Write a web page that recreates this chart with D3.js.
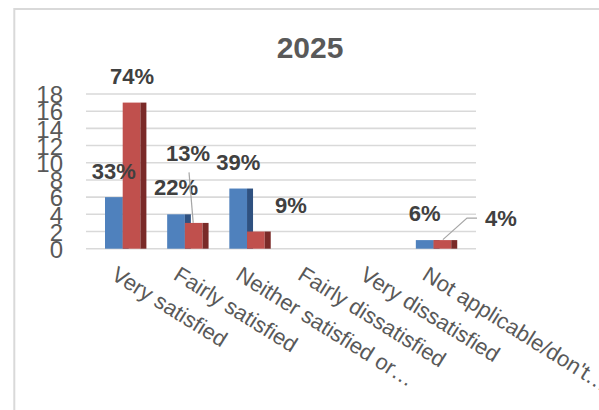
<!DOCTYPE html>
<html>
<head>
<meta charset="utf-8">
<script src="https://cdn.jsdelivr.net/npm/d3@7/dist/d3.min.js"></script>
<style>
  body { margin: 0; background: #fff; }
  svg { display: block; font-family: "Liberation Sans", Arial, sans-serif; }
</style>
</head>
<body>
<svg id="chart" width="599" height="410"></svg>
<script>
// ---- data ----
const chartTitle = "2025";
const categories = [
  "Very satisfied",
  "Fairly satisfied",
  "Neither satisfied or…",
  "Fairly dissatisfied",
  "Very dissatisfied",
  "Not applicable/don't…"
];
const seriesBlue = [6, 4, 7, 0, 0, 1];
const seriesRed  = [17, 3, 2, 0, 0, 1];
const yTicks = [0, 2, 4, 6, 8, 10, 12, 14, 16, 18];

// ---- layout ----
const W = 599, H = 410;
const plot = { left: 87, right: 460, top: 94, bottom: 248.7, gridLeft: 86, gridRight: 476 };
const faceW = 17.7, sideW = 6, groupOffset = 18;
const colors = {
  blue: "#4f81bd", blueSide: "#2f5180",
  red: "#c0504d", redSide: "#7a2a28",
  grid: "#d9d9d9", text: "#595959", label: "#404040", leader: "#a6a6a6"
};
// manual nudges of data labels (dx, dy from the default spot above the bar)
const nudgeBlue = [[0, 0], [0, -0.5], [0, 0], [0, 0], [0, 0], [0, -0.5]];
const nudgeRed  = [[0.5, 0], [-5.7, -43], [35, 0], [0, 0], [0, 0], [58.5, 4.5]];
const leaderRed = [null, "straight", null, null, null, "elbow"];

const svg = d3.select("#chart");

// chart frame
svg.append("rect")
  .attr("x", 14.3).attr("y", 9)
  .attr("width", W + 20).attr("height", H + 20)
  .attr("fill", "none").attr("stroke", colors.grid).attr("stroke-width", 2);

const x = d3.scaleBand().domain(d3.range(categories.length)).range([plot.left, plot.right]).padding(0);
const y = d3.scaleLinear().domain([0, 18]).range([plot.bottom, plot.top]);

// gridlines
svg.append("g").selectAll("line").data(yTicks).join("line")
  .attr("x1", plot.gridLeft).attr("x2", plot.gridRight)
  .attr("y1", d => y(d)).attr("y2", d => y(d))
  .attr("stroke", colors.grid).attr("stroke-width", 1.6);

// y axis labels
const yAxis = d3.axisLeft(y).tickValues(yTicks).tickSize(0).tickPadding(0);
const gy = svg.append("g").attr("transform", "translate(63,1)").call(yAxis);
gy.select(".domain").remove();
gy.selectAll("text")
  .attr("font-size", 24).attr("fill", colors.text)
  .attr("font-family", "'Liberation Sans', Arial, sans-serif");

// title
svg.append("text").text(chartTitle)
  .attr("x", 310).attr("y", 58).attr("text-anchor", "middle")
  .attr("font-size", 30).attr("font-weight", "bold").attr("fill", colors.text);

// bars with a dark side face
function drawSeries(values, offset, face, side) {
  const g = svg.append("g");
  const data = values.map((v, i) => ({ v, i })).filter(d => d.v > 0);
  g.selectAll("rect.face").data(data).join("rect").attr("class", "face")
    .attr("x", d => x(d.i) + offset).attr("y", d => y(d.v))
    .attr("width", faceW).attr("height", d => y(0) - y(d.v)).attr("fill", face);
  g.selectAll("rect.side").data(data).join("rect").attr("class", "side")
    .attr("x", d => x(d.i) + offset + faceW).attr("y", d => y(d.v))
    .attr("width", sideW).attr("height", d => y(0) - y(d.v)).attr("fill", side);
}
drawSeries(seriesBlue, groupOffset, colors.blue, colors.blueSide);
drawSeries(seriesRed, groupOffset + faceW, colors.red, colors.redSide);

// data labels: share of each series total
function drawLabels(values, offset, nudges, leaders) {
  const total = d3.sum(values);
  values.forEach((v, i) => {
    if (v <= 0) return;
    const cx = x(i) + offset + faceW / 2;
    const top = y(v);
    const lx = cx + nudges[i][0];
    const ly = top - 18.5 + nudges[i][1];
    const txt = Math.round(v / total * 100) + "%";
    const t = svg.append("text").text(txt)
      .attr("x", lx).attr("y", ly).attr("text-anchor", "middle")
      .attr("font-size", 22).attr("font-weight", "bold").attr("fill", colors.label);
    const kind = leaders && leaders[i];
    if (kind === "straight") {
      svg.append("line")
        .attr("x1", lx + 1).attr("y1", ly + 11)
        .attr("x2", cx - 0.5).attr("y2", top)
        .attr("stroke", colors.leader).attr("stroke-width", 1.2);
    } else if (kind === "elbow") {
      const w = t.node().getComputedTextLength();
      const left = lx - w / 2;
      const my = ly - 8;
      svg.append("path")
        .attr("d", `M${cx + 0.5},${top - 0.5} L${left - 18},${my} L${left - 8},${my}`)
        .attr("fill", "none").attr("stroke", colors.leader).attr("stroke-width", 1.2);
    }
  });
}
drawLabels(seriesBlue, groupOffset, nudgeBlue, null);
drawLabels(seriesRed, groupOffset + faceW, nudgeRed, leaderRed);

// rotated category labels
svg.append("g").selectAll("text").data(categories).join("text")
  .text(d => d)
  .attr("transform", (d, i) => `translate(${x(i) + x.bandwidth() / 2 - 8},278.5) rotate(32)`)
  .attr("font-size", 22).attr("fill", colors.text);
</script>
</body>
</html>
